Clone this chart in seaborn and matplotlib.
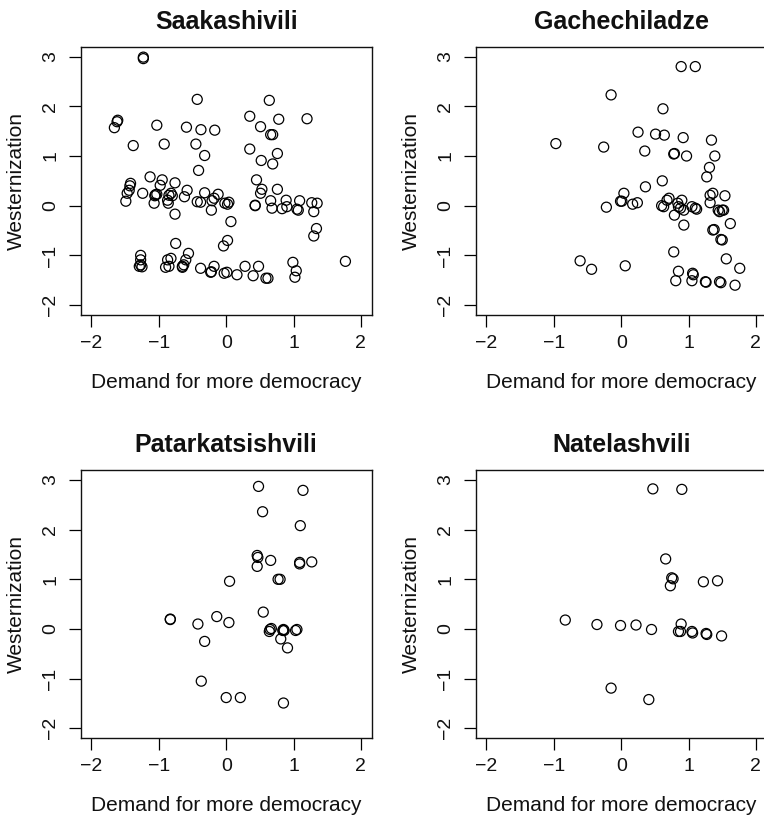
import pandas as pd
import matplotlib
matplotlib.use('Agg')
import matplotlib.pyplot as plt
import seaborn as sns

# Values (Demand for more democracy, Westernization)
saak_x = [-1.23, -1.23, -0.43, 0.64, -1.66, -1.62, -1.61, -1.03, -0.59, -0.375,
          -0.17, 0.35, 0.51, 0.78, 1.20, 0.66, 0.69, -1.38, -0.92, -0.45,
          -0.32, 0.35, 0.76, 0.52, 0.69, -0.41, -1.13, -0.95, -0.98, -0.76,
          -1.42, -1.43, -1.44, -1.47, -1.49, -1.24, -1.06, -1.03, -1.05, -0.85,
          -0.82, -0.80, -0.87, -0.86, -1.07, -0.58, -0.62, -0.76, -0.43, -0.38,
          -0.32, -0.21, -0.18, -0.12, -0.22, -0.02, 0.04, 0.07, 0.45, 0.53,
          0.51, 0.76, 0.43, 0.43, 0.66, 0.68, 0.83, 0.89, 0.90, 1.05,
          1.09, 1.27, 1.30, 1.35, 1.34, 1.30, -0.75, -0.04, 0.02, -1.27,
          -1.27, -1.27, -1.29, -1.25, -0.87, -0.82, -0.85, -0.90, -0.65, -0.63,
          -0.60, -0.56, -0.38, -0.23, -0.18, -0.03, 0.01, 0.16, 0.28, 0.40,
          0.48, 0.59, 0.62, 0.99, 1.04, 1.02, 1.77, 0.02, -0.65, -0.22, 1.07]
saak_y = [2.96, 2.99, 2.14, 2.12, 1.57, 1.69, 1.72, 1.62, 1.58, 1.53,
          1.52, 1.80, 1.59, 1.74, 1.75, 1.43, 1.43, 1.21, 1.24, 1.24,
          1.01, 1.14, 1.05, 0.91, 0.84, 0.71, 0.58, 0.52, 0.41, 0.46,
          0.45, 0.40, 0.31, 0.25, 0.09, 0.25, 0.20, 0.23, 0.22, 0.21,
          0.25, 0.20, 0.11, 0.05, 0.05, 0.31, 0.18, -0.17, 0.08, 0.07,
          0.26, 0.10, 0.15, 0.23, -0.09, 0.05, 0.07, -0.32, 0.52, 0.33,
          0.25, 0.33, 0.00, 0.01, 0.10, -0.05, -0.06, 0.11, -0.02, -0.07,
          0.10, 0.06, -0.12, 0.05, -0.46, -0.61, -0.76, -0.81, -0.70, -1.00,
          -1.09, -1.19, -1.22, -1.23, -1.09, -1.06, -1.22, -1.24, -1.22, -1.19,
          -1.09, -0.96, -1.26, -1.34, -1.22, -1.36, -1.34, -1.39, -1.22, -1.41,
          -1.22, -1.46, -1.46, -1.14, -1.31, -1.44, -1.12, 0.03, -1.24, -1.33, -0.09]

gach_x = [-0.97, -0.61, -0.44, -0.26, -0.15, -0.22, 0.06, -0.01, 0.01, 0.04,
          0.17, 0.24, 0.25, 0.35, 0.36, 0.51, 0.64, 0.62, 0.61, 0.60,
          0.63, 0.68, 0.71, 0.78, 0.79, 0.78, 0.79, 0.85, 0.88, 0.90,
          0.84, 0.93, 0.89, 1.10, 0.92, 0.97, 0.93, 0.85, 0.81, 1.05,
          1.10, 1.12, 1.06, 1.07, 1.05, 1.25, 1.26, 1.34, 1.39, 1.31,
          1.27, 1.32, 1.36, 1.32, 1.44, 1.46, 1.50, 1.52, 1.54, 1.36,
          1.38, 1.48, 1.50, 1.62, 1.56, 1.76, 1.46, 1.48, 1.69]
gach_y = [1.25, -1.11, -1.28, 1.18, 2.23, -0.03, -1.21, 0.09, 0.09, 0.25,
          0.03, 0.06, 1.48, 1.10, 0.38, 1.44, 1.42, 1.95, 0.50, 0.00,
          -0.02, 0.11, 0.15, 1.04, 1.05, -0.93, -0.19, -0.02, -0.05, 0.11,
          0.05, -0.09, 2.80, 2.80, 1.37, 1.00, -0.39, -1.32, -1.51, -0.02,
          -0.05, -0.07, -1.36, -1.39, -1.51, -1.53, -1.54, 1.32, 1.00, 0.77,
          0.58, 0.21, 0.25, 0.06, -0.09, -0.12, -0.09, -0.09, 0.20, -0.49,
          -0.48, -0.68, -0.69, -0.36, -1.07, -1.26, -1.53, -1.55, -1.60]

pata_x = [0.48, 1.14, 0.54, 1.10, 0.46, 0.47, 0.46, 0.66, 1.09, 1.09,
          1.27, 0.05, 0.77, 0.80, -0.83, -0.83, -0.42, -0.14, 0.04, 0.55,
          0.65, 0.67, 0.64, 0.84, 0.86, 0.85, 0.81, 0.91, 1.03, 1.05,
          -0.32, -0.37, 0.00, 0.21, 0.85]
pata_y = [2.87, 2.79, 2.36, 2.08, 1.48, 1.44, 1.26, 1.38, 1.34, 1.31,
          1.35, 0.96, 1.00, 1.00, 0.19, 0.20, 0.10, 0.25, 0.13, 0.34,
          -0.01, 0.01, -0.05, -0.03, -0.03, -0.01, -0.20, -0.38, -0.03, -0.01,
          -0.25, -1.05, -1.38, -1.38, -1.49]

nate_x = [0.47, 0.90, 0.66, 0.75, 0.77, 0.73, 1.22, 1.43, -0.83, -0.36,
          -0.01, 0.22, 0.45, 0.89, 0.85, 0.88, 1.05, 1.06, 1.26, 1.27,
          1.49, -0.15, 0.41]
nate_y = [2.82, 2.81, 1.41, 1.03, 1.01, 0.87, 0.95, 0.97, 0.18, 0.09,
          0.07, 0.08, -0.01, 0.10, -0.05, -0.05, -0.05, -0.08, -0.09, -0.11,
          -0.14, -1.19, -1.42]

candidates = ['Saakashivili', 'Gachechiladze', 'Patarkatsishvili', 'Natelashvili']
xs = [saak_x, gach_x, pata_x, nate_x]
ys = [saak_y, gach_y, pata_y, nate_y]

sns.set_style('white')
plt.rcParams['font.family'] = ['Liberation Sans', 'DejaVu Sans']

fig = plt.figure(figsize=(7.64, 8.18), dpi=100)
W, H = 764, 818
# panel boxes in pixels: left, top
boxes = [(80.7, 46.7), (475.7, 46.7), (80.7, 470), (475.7, 470)]
bw, bh = 291, 268.3

for name, x, y, (left, top) in zip(candidates, xs, ys, boxes):
    ax = fig.add_axes([left / W, 1 - (top + bh) / H, bw / W, bh / H])
    df = pd.DataFrame({'demand': x, 'west': y})
    sns.scatterplot(data=df, x='demand', y='west', ax=ax, s=52,
                    facecolor='none', edgecolor='black', linewidth=0.9)
    ax.set_xlim(-2.16, 2.16)
    ax.set_ylim(-2.2, 3.2)
    ax.set_xticks([-2, -1, 0, 1, 2])
    ax.set_yticks([-2, -1, 0, 1, 2, 3])
    ax.set_xticklabels(['\u22122', '\u22121', '0', '1', '2'])
    ax.set_yticklabels(['\u22122', '\u22121', '0', '1', '2', '3'],
                       rotation=90, va='center')
    ax.tick_params(axis='both', direction='out', length=8.5, width=0.9,
                   labelsize=14, color='black', labelcolor='#111111',
                   bottom=True, left=True)
    ax.tick_params(axis='x', pad=6)
    ax.tick_params(axis='y', pad=7)
    for sp in ax.spines.values():
        sp.set_color('#111111')
        sp.set_linewidth(1.0)
    ax.set_title(name, fontsize=18, fontweight='bold', pad=13, color='#111111')
    ax.set_xlabel('Demand for more democracy', fontsize=15, labelpad=15,
                  color='#111111')
    ax.set_ylabel('Westernization', fontsize=15, labelpad=12, color='#111111')

fig.savefig('out.png', dpi=100)
